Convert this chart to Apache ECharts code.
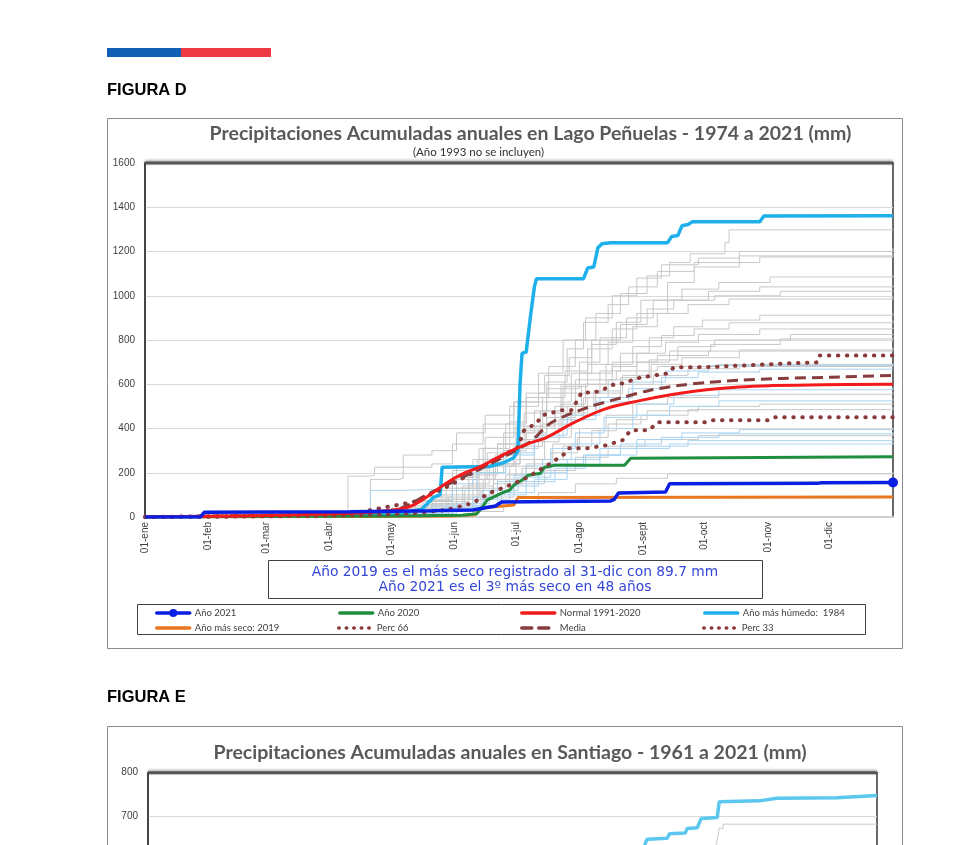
<!DOCTYPE html>
<html><head><meta charset="utf-8">
<script src="https://cdn.jsdelivr.net/npm/echarts@6/dist/echarts.min.js"></script>
<style>html,body{margin:0;padding:0;background:#fff;overflow:hidden;height:845px}#c{width:979px;height:1130px}</style>
</head><body><div id="c"></div>
<script>
// ---------- tick labels ----------
const monthStarts = [0,31,59,90,120,151,181,212,243,273,304,334];
const monthLabels = ['01-ene','01-feb','01-mar','01-abr','01-may','01-jun','01-jul','01-ago','01-sept','01-oct','01-nov','01-dic'];

// ---------- Figura D : [day of year, accumulated mm] ----------
const wettest1984 = [[0,0],[31,2],[60,4],[100,8],[125,15],[135,35],[141,90],[144,100],[145,225],[168,228],[175,245],[180,268],[182,300],[183,600],[184,740],[186,745],[188,900],[190,1040],[191,1077],[214,1077],[216,1125],[219,1130],[221,1217],[223,1235],[227,1240],[255,1240],[257,1268],[260,1272],[262,1316],[265,1322],[267,1334],[300,1334],[302,1360],[365,1362]];
const normal9120 = [[0,0],[31,3],[59,7],[90,14],[110,22],[124,35],[131,54],[139,100],[147,153],[155,195],[163,225],[172,268],[180,305],[188,335],[196,360],[209,425],[225,490],[242,527],[258,555],[274,575],[290,588],[306,594],[331,598],[365,600]];
const media = [[0,0],[31,4],[59,8],[90,15],[115,25],[125,40],[139,108],[155,180],[172,257],[188,340],[198,425],[216,495],[233,540],[246,572],[261,595],[274,608],[290,618],[310,626],[335,632],[365,640]];
const perc66 = [[0,0],[31,3],[59,6],[90,12],[105,22],[115,40],[131,68],[147,135],[160,200],[170,257],[182,315],[185,392],[191,424],[194,460],[203,482],[208,482],[211,527],[213,563],[219,563],[223,572],[227,595],[233,604],[242,631],[255,649],[258,676],[276,678],[313,694],[328,699],[329,730],[365,730]];
const perc33 = [[0,0],[31,1],[59,3],[90,6],[120,12],[135,20],[147,32],[160,63],[168,108],[178,144],[186,176],[193,215],[198,243],[206,293],[207,311],[216,311],[225,324],[233,347],[237,392],[246,392],[250,428],[274,428],[277,437],[304,437],[307,451],[365,451]];
const year2020 = [[0,0],[60,2],[120,5],[155,8],[162,15],[165,50],[167,77],[170,90],[174,108],[178,122],[180,144],[184,167],[187,189],[193,198],[195,225],[200,234],[234,234],[237,266],[365,272]];
const year2021 = [[0,0],[27,0],[29,22],[100,24],[140,28],[160,32],[171,50],[174,68],[227,72],[229,80],[231,108],[254,113],[256,150],[328,152],[330,155],[365,156]];
const year2019 = [[0,0],[100,2],[150,5],[161,10],[162,18],[164,41],[180,54],[182,88],[365,90]];

const grayYears = [
 [[0,0],[100,20],[132,75],[150,180],[163,310],[176,420],[186,540],[197,680],[210,800],[220,920],[232,1010],[245,1090],[256,1150],[266,1190],[283,1240],[285,1298],[365,1300]],
 [[0,0],[80,10],[120,40],[140,120],[152,230],[166,360],[180,520],[192,650],[204,800],[215,900],[228,1000],[240,1080],[252,1140],[270,1170],[290,1200],[365,1217]],
 [[0,0],[110,25],[140,80],[158,190],[172,330],[185,470],[196,610],[206,760],[214,880],[226,960],[236,1040],[250,1110],[268,1150],[300,1175],[365,1181]],
 [[0,0],[100,10],[128,40],[147,130],[162,260],[175,380],[190,480],[203,600],[212,700],[222,810],[235,900],[248,980],[262,1030],[280,1060],[305,1085],[365,1091]],
 [[0,0],[120,20],[136,90],[150,210],[165,310],[178,430],[186,560],[195,640],[207,720],[218,800],[232,870],[245,940],[258,980],[278,1000],[310,1020],[365,1023]],
 [[0,0],[90,15],[125,50],[145,100],[160,170],[171,280],[182,390],[193,480],[204,590],[216,690],[226,790],[238,860],[250,920],[265,960],[285,985],[365,992]],
 [[0,0],[110,5],[140,60],[155,140],[170,240],[183,350],[196,450],[210,560],[222,660],[232,740],[246,810],[258,860],[272,890],[300,912],[365,919]],
 [[0,0],[100,12],[132,35],[148,90],[163,200],[175,300],[186,410],[200,500],[213,600],[225,690],[238,770],[252,820],[268,850],[285,878],[365,888]],
 [[0,0],[115,20],[142,70],[158,150],[168,230],[180,310],[192,400],[203,510],[215,600],[228,680],[240,740],[254,790],[270,825],[300,850],[365,856]],
 [[0,0],[95,8],[128,30],[150,80],[165,170],[181,260],[195,360],[208,460],[220,560],[233,640],[246,710],[260,770],[278,800],[315,825],[365,829]],
 [[0,0],[120,10],[150,40],[164,120],[178,230],[190,340],[202,440],[214,540],[226,620],[240,700],[256,750],[276,780],[310,805],[365,811]],
 [[0,0],[105,15],[138,55],[152,130],[166,230],[180,320],[194,420],[206,500],[219,570],[232,630],[247,690],[262,720],[290,755],[365,766]],
 [[0,0],[110,5],[145,40],[160,100],[172,170],[186,240],[199,330],[212,400],[225,460],[238,510],[255,540],[280,555],[365,563]],
 [[0,0],[120,12],[148,60],[162,130],[176,190],[190,260],[204,320],[218,390],[230,440],[245,480],[270,500],[300,510],[365,514]],
 [[0,0],[100,5],[135,25],[155,80],[170,150],[184,220],[198,290],[211,360],[226,420],[242,460],[265,485],[365,496]],
 [[0,0],[125,10],[150,35],[166,90],[180,150],[195,210],[210,270],[226,320],[244,350],[270,368],[365,378]],
 [[0,0],[130,5],[160,25],[175,70],[192,110],[210,150],[230,175],[255,195],[365,203]],
 [[0,0],[110,18],[135,70],[152,170],[167,290],[181,410],[194,540],[205,660],[216,760],[228,850],[240,920],[255,980],[275,1020],[300,1040],[365,1046]],
 [[0,0],[105,8],[140,45],[156,120],[170,240],[183,380],[196,520],[208,650],[218,780],[230,880],[242,980],[255,1060],[268,1130],[290,1180],[365,1195]],
 [[0,0],[95,10],[99,185],[110,190],[112,225],[140,240],[150,330],[165,420],[178,500],[192,560],[210,620],[230,660],[250,680],[280,690],[365,690]],
 [[0,0],[108,15],[110,170],[124,175],[126,280],[140,300],[152,380],[166,460],[180,520],[196,580],[212,650],[228,700],[250,730],[275,750],[365,753]],
 [[0,0],[115,10],[140,60],[150,180],[160,260],[172,330],[186,400],[200,470],[216,540],[232,600],[248,640],[265,670],[290,680],[365,685]]
];
const lightBlueYears = [
 [[0,0],[108,10],[110,120],[124,125],[145,150],[160,200],[176,280],[190,360],[204,440],[220,520],[236,580],[252,630],[270,655],[300,668],[365,671]],
 [[0,0],[120,8],[145,40],[160,90],[172,160],[186,230],[198,310],[210,380],[224,450],[240,510],[258,550],[280,575],[365,586]],
 [[0,0],[130,10],[150,50],[165,120],[180,190],[194,260],[208,330],[222,400],[238,460],[256,500],[280,525],[365,536]],
 [[0,0],[125,5],[150,30],[165,80],[178,140],[192,200],[206,260],[222,310],[240,350],[262,380],[290,395],[365,401]],
 [[0,0],[135,10],[158,45],[172,100],[186,160],[200,220],[215,280],[232,330],[252,360],[280,376],[365,383]],
 [[0,0],[140,12],[160,50],[174,110],[190,170],[206,230],[222,280],[240,320],[265,345],[365,356]],
 [[0,0],[128,15],[152,60],[168,120],[182,180],[198,240],[214,280],[232,310],[256,330],[365,338]],
 [[0,0],[118,12],[140,50],[150,120],[162,200],[176,290],[190,370],[206,460],[222,540],[238,610],[254,660],[275,685],[365,694]]
];

// ---------- Figura E (Santiago) ----------
const santiagoWettest = [[0,0],[120,60],[150,250],[180,420],[210,520],[240,600],[248,615],[249,640],[250,649],[260,651],[261,661],[269,663],[270,673],[275,675],[277,696],[285,698],[286,734],[306,736],[307,740],[315,742],[345,743],[346,747],[365,748]];
const santiagoGray = [[0,0],[150,200],[200,400],[240,560],[250,600],[284,630],[285,647],[286,674],[288,683],[365,684]];

// ---------- names ----------
const nm = {
  y2021:'Año 2021', y2020:'Año 2020', normal:'Normal 1991-2020', wet:'Año más húmedo:  1984',
  y2019:'Año más seco: 2019', p66:'Perc 66', media:'Media', p33:'Perc 33'
};

const chart = echarts.init(document.getElementById('c'), null, {renderer:'canvas'});
const series = [];
const thin = (d, color, i) => ({type:'line', name:'_'+color+i, data:d, step:'end', symbol:'none', silent:true,
  lineStyle:{color:color, width:1}, z:1, xAxisIndex:0, yAxisIndex:0});
grayYears.forEach((d,i)=>series.push(thin(d,'#c8c8c8',i)));
lightBlueYears.forEach((d,i)=>series.push(thin(d,'#a9d3f1',i)));

series.push({type:'line', name:nm.wet, data:wettest1984, symbol:'none', lineStyle:{color:'#1eb0ea', width:3.5}, itemStyle:{color:'#1eb0ea'}, z:3});
series.push({type:'line', name:nm.y2019, data:year2019, symbol:'none', lineStyle:{color:'#e8771f', width:3}, itemStyle:{color:'#e8771f'}, z:4});
series.push({type:'line', name:nm.y2020, data:year2020, symbol:'none', lineStyle:{color:'#1f8f3f', width:3}, itemStyle:{color:'#1f8f3f'}, z:4});
series.push({type:'line', name:nm.p33, data:perc33, symbol:'none', lineStyle:{color:'#8a3a3a', width:4, type:[0.5,8.5], cap:'round'}, itemStyle:{color:'#8a3a3a'}, z:5});
series.push({type:'line', name:nm.p66, data:perc66, symbol:'none', lineStyle:{color:'#8a3a3a', width:4, type:[0.5,8.5], cap:'round'}, itemStyle:{color:'#8a3a3a'}, z:5});
series.push({type:'line', name:nm.media, data:media, symbol:'none', smooth:0.3, lineStyle:{color:'#873d3d', width:3, type:[11,6]}, itemStyle:{color:'#873d3d'}, z:5});
series.push({type:'line', name:nm.normal, data:normal9120, symbol:'none', smooth:0.4, lineStyle:{color:'#f21a1a', width:3}, itemStyle:{color:'#f21a1a'}, z:6});
const d2021 = year2021.map((p,i)=> i===year2021.length-1 ? {value:p, symbol:'circle', symbolSize:10} : {value:p, symbol:'none'});
series.push({type:'line', name:nm.y2021, data:d2021, showSymbol:true, symbol:'none', lineStyle:{color:'#0b1fe3', width:3.5}, itemStyle:{color:'#0b1fe3'}, z:7});
series.forEach(s=>{ if(s.xAxisIndex===undefined){s.xAxisIndex=0; s.yAxisIndex=0;} s.silent=true; });

series.push({type:'line', name:'_santGray', data:santiagoGray, step:'end', symbol:'none', lineStyle:{color:'#c8c8c8', width:1}, xAxisIndex:1, yAxisIndex:1, silent:true});
series.push({type:'line', name:'_santWet', data:santiagoWettest, symbol:'none', lineStyle:{color:'#5cc8ef', width:3.5}, xAxisIndex:1, yAxisIndex:1, silent:true, z:3});

const legText = {fontFamily:'Lato', fontSize:9.5, color:'#404040'};
const mkLeg = (name, left, top, lw, dashType, showDot) => ({data:[name], left:left, top:top, itemWidth:33, itemHeight:10, itemGap:0, padding:0,
  selectedMode:false, textStyle:legText, itemStyle: showDot ? {} : {opacity:0},
  lineStyle:{width:lw, type:dashType || 'inherit', cap:'round'}});
const legends = [
  mkLeg(nm.y2021,155,608,3.5,null,true), mkLeg(nm.y2020,338,608,3.5), mkLeg(nm.normal,520,608,3.5), mkLeg(nm.wet,703,608,3.5),
  mkLeg(nm.y2019,155,623,3.5), mkLeg(nm.p66,337,623,3.5,[0.5,7]), mkLeg(nm.media,520,623,3.5,[10,7]), mkLeg(nm.p33,702,623,3.5,[0.5,7])
];

const axisLabelY = {fontFamily:'Liberation Sans', fontSize:10, color:'#404040', margin:10, formatter:(v)=>String(v)};
const option = {
  backgroundColor:'#fff',
  animation:false,
  grid:[
    {left:145, top:163, width:748, height:354, show:true, borderColor:'#3a3a3a', borderWidth:1.5, containLabel:false},
    {left:148, top:772.7, width:729, height:352, show:true, borderColor:'#3a3a3a', borderWidth:1.5, containLabel:false}
  ],
  xAxis:[
    {type:'value', gridIndex:0, min:0, max:365,
     axisLine:{show:true, lineStyle:{color:'#d0d0d0', width:2}}, axisTick:{show:false}, splitLine:{show:false},
     axisLabel:{customValues:monthStarts, rotate:90, fontFamily:'Liberation Sans', fontSize:10, color:'#404040', margin:5,
       formatter:(v)=>monthLabels[monthStarts.indexOf(v)]}},
    {type:'value', gridIndex:1, min:0, max:365, axisLine:{show:false}, axisTick:{show:false}, splitLine:{show:false}, axisLabel:{show:false}}
  ],
  yAxis:[
    {type:'value', gridIndex:0, min:0, max:1600, interval:200,
     axisLine:{show:true, lineStyle:{color:'#3a3a3a', width:1.5}}, axisTick:{show:false},
     splitLine:{lineStyle:{color:'#d9d9d9', width:1}}, axisLabel:axisLabelY},
    {type:'value', gridIndex:1, min:0, max:800, interval:100,
     axisLine:{show:true, lineStyle:{color:'#3a3a3a', width:1.5}}, axisTick:{show:false},
     splitLine:{lineStyle:{color:'#d9d9d9', width:1}}, axisLabel:axisLabelY}
  ],
  legend: legends,
  series: series,
  graphic:{elements:[
    {type:'rect', shape:{x:107,y:48,width:74,height:9}, style:{fill:'#1160b6'}, silent:true},
    {type:'rect', shape:{x:181,y:48,width:90,height:9}, style:{fill:'#ee3a45'}, silent:true},
    {type:'text', x:107, y:90, style:{text:'FIGURA D', font:'bold 16.5px "Liberation Sans", Arial', fill:'#000', verticalAlign:'middle'}, silent:true},
    {type:'rect', shape:{x:107.5,y:118.5,width:795,height:530}, style:{fill:'none', stroke:'#8c8c8c', lineWidth:1}, silent:true},
    {type:'line', shape:{x1:145,y1:163,x2:893,y2:163}, style:{stroke:'#555', lineWidth:3, shadowBlur:3, shadowColor:'rgba(0,0,0,0.4)', shadowOffsetY:-1}, silent:true, z:10},
    {type:'text', x:530.5, y:134, style:{text:'Precipitaciones Acumuladas anuales en Lago Peñuelas - 1974 a 2021 (mm)', font:'bold 19.5px Lato', fill:'#595959', align:'center', verticalAlign:'middle'}, silent:true},
    {type:'text', x:478.5, y:152, style:{text:'(Año 1993 no se incluyen)', font:'11.5px Lato', fill:'#303030', align:'center', verticalAlign:'middle'}, silent:true},
    {type:'rect', shape:{x:268.5,y:560.5,width:494,height:38}, style:{fill:'#fff', stroke:'#404040', lineWidth:1}, silent:true},
    {type:'text', x:515, y:572, style:{text:'Año 2019 es el más seco registrado al 31-dic con 89.7 mm', font:'13.8px "DejaVu Sans"', fill:'#3346d6', align:'center', verticalAlign:'middle'}, silent:true},
    {type:'text', x:515, y:587, style:{text:'Año 2021 es el 3º más seco en 48 años', font:'13.8px "DejaVu Sans"', fill:'#3346d6', align:'center', verticalAlign:'middle'}, silent:true},
    {type:'rect', shape:{x:137.5,y:604.5,width:728,height:30}, style:{fill:'none', stroke:'#404040', lineWidth:1}, silent:true, z:-1},
    {type:'text', x:107, y:697, style:{text:'FIGURA E', font:'bold 16.5px "Liberation Sans", Arial', fill:'#000', verticalAlign:'middle'}, silent:true},
    {type:'rect', shape:{x:107.5,y:726.5,width:795,height:300}, style:{fill:'none', stroke:'#8c8c8c', lineWidth:1}, silent:true},
    {type:'line', shape:{x1:148,y1:772.7,x2:877,y2:772.7}, style:{stroke:'#555', lineWidth:3, shadowBlur:3, shadowColor:'rgba(0,0,0,0.4)', shadowOffsetY:-1}, silent:true, z:10},
    {type:'text', x:510, y:753, style:{text:'Precipitaciones Acumuladas anuales en Santiago - 1961 a 2021 (mm)', font:'bold 19.5px Lato', fill:'#595959', align:'center', verticalAlign:'middle'}, silent:true}
  ]}
};
chart.setOption(option);
</script></body></html>
